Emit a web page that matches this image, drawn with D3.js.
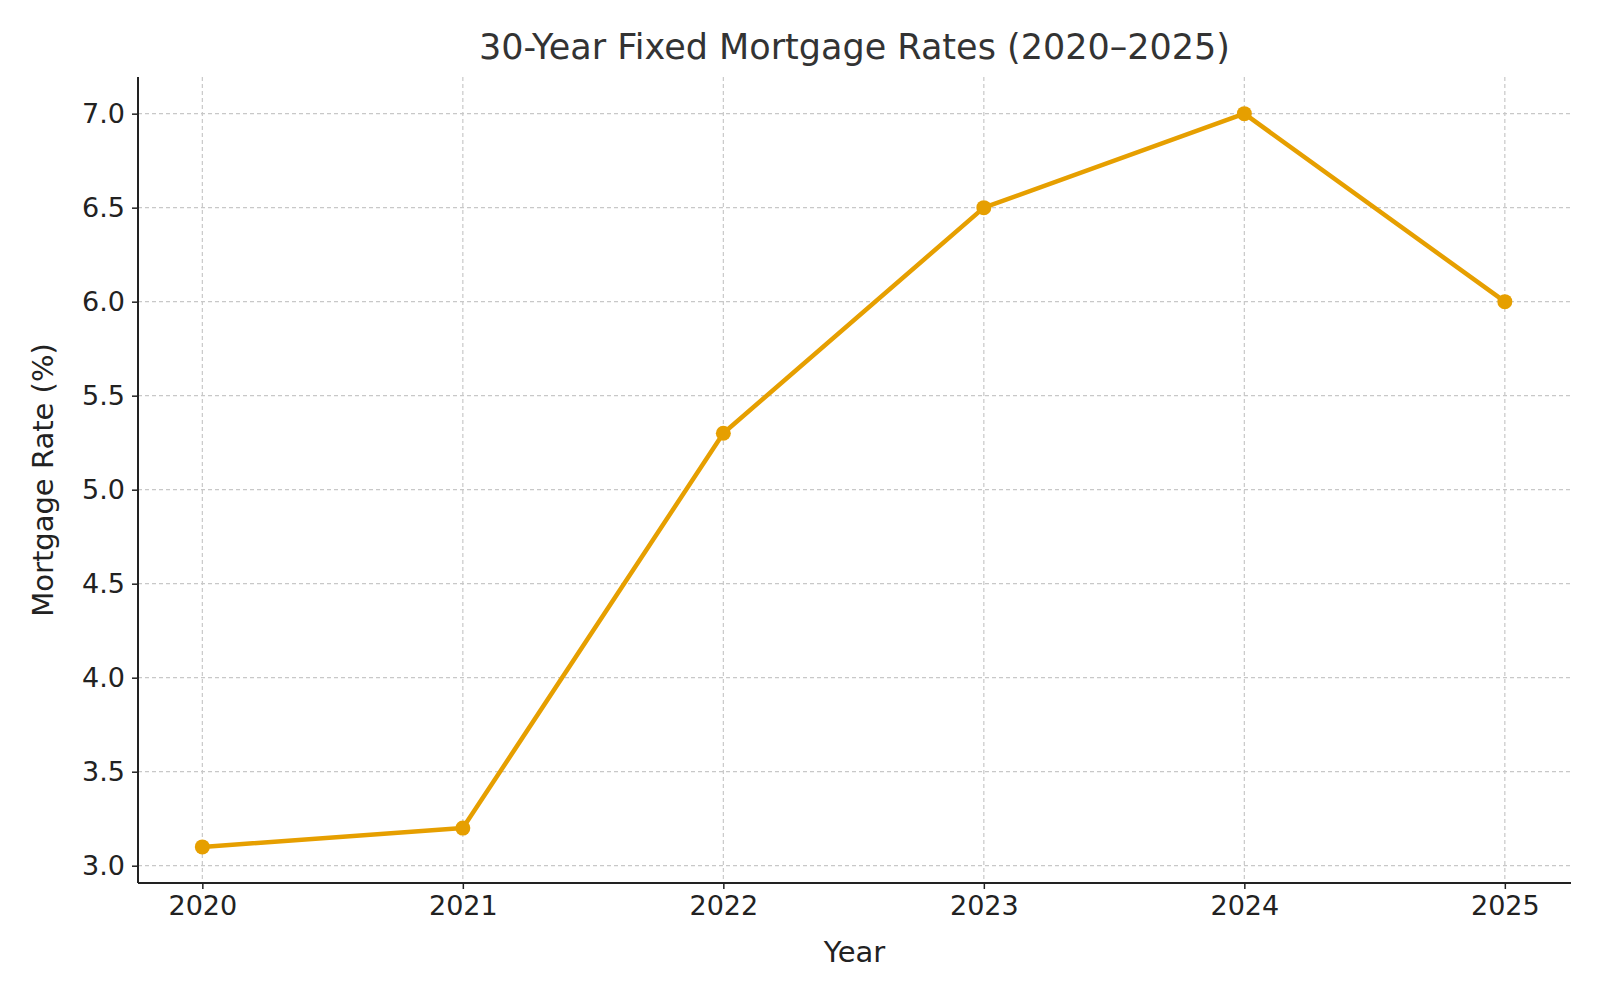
<!DOCTYPE html>
<html><head><meta charset="utf-8">
<script src="https://cdn.jsdelivr.net/npm/d3@7"></script>
<style>body{margin:0;background:#fff}svg{font-family:"DejaVu Sans",sans-serif}</style>
</head><body><svg id="c" width="1600" height="1000"></svg>
<script>
const years = [2020, 2021, 2022, 2023, 2024, 2025];
const rates = [3.1, 3.2, 5.3, 6.5, 7.0, 6.0];
const yTicks = [3.0, 3.5, 4.0, 4.5, 5.0, 5.5, 6.0, 6.5, 7.0];

const svg = d3.select("#c");
const L = 138, R = 1571, T = 77, B = 883;
const x = d3.scaleLinear().domain([2019.753, 2025.254]).range([L, R]);
const y = d3.scaleLinear().domain([2.908, 7.195]).range([B, T]);

const grid = svg.append("g").attr("stroke", "#c8c8c8").attr("stroke-dasharray", "4,3").attr("stroke-width", 1.2);
years.forEach(v => grid.append("line").attr("x1", x(v)).attr("x2", x(v)).attr("y1", T).attr("y2", B));
yTicks.forEach(v => grid.append("line").attr("x1", L).attr("x2", R).attr("y1", y(v)).attr("y2", y(v)));

const xa = svg.append("g").attr("transform", `translate(0,${B})`)
  .call(d3.axisBottom(x).tickValues(years).tickFormat(d3.format("d")).tickSize(6).tickPadding(7));
const ya = svg.append("g").attr("transform", `translate(${L},0)`)
  .call(d3.axisLeft(y).tickValues(yTicks).tickFormat(d3.format(".1f")).tickSize(6).tickPadding(7));
[xa, ya].forEach(a => {
  a.selectAll("text").attr("font-size", 27).attr("fill", "#222").attr("font-family", "DejaVu Sans");
  a.selectAll("line").attr("stroke", "#222").attr("stroke-width", 1.5);
});
xa.select(".domain").attr("stroke", "#222").attr("stroke-width", 2).attr("d", `M${L},0H${R}`);
ya.select(".domain").attr("stroke", "#222").attr("stroke-width", 2).attr("d", `M0,${T}V${B}`);

const data = years.map((v, i) => [v, rates[i]]);
svg.append("path").datum(data).attr("fill", "none").attr("stroke", "#E69F00").attr("stroke-width", 4.5)
  .attr("stroke-linejoin", "round")
  .attr("d", d3.line().x(d => x(d[0])).y(d => y(d[1])));
svg.selectAll("circle.p").data(data).join("circle").attr("cx", d => x(d[0])).attr("cy", d => y(d[1]))
  .attr("r", 7.5).attr("fill", "#E69F00");

svg.append("text").attr("x", (L + R) / 2).attr("y", 59).attr("text-anchor", "middle")
  .attr("font-size", 35).attr("fill", "#333").text("30-Year Fixed Mortgage Rates (2020–2025)");
svg.append("text").attr("x", (L + R) / 2).attr("y", 962).attr("text-anchor", "middle")
  .attr("font-size", 29).attr("fill", "#222").text("Year");
svg.append("text").attr("transform", `translate(53,${(T + B) / 2}) rotate(-90)`).attr("text-anchor", "middle")
  .attr("font-size", 29).attr("fill", "#222").text("Mortgage Rate (%)");
</script></body></html>
